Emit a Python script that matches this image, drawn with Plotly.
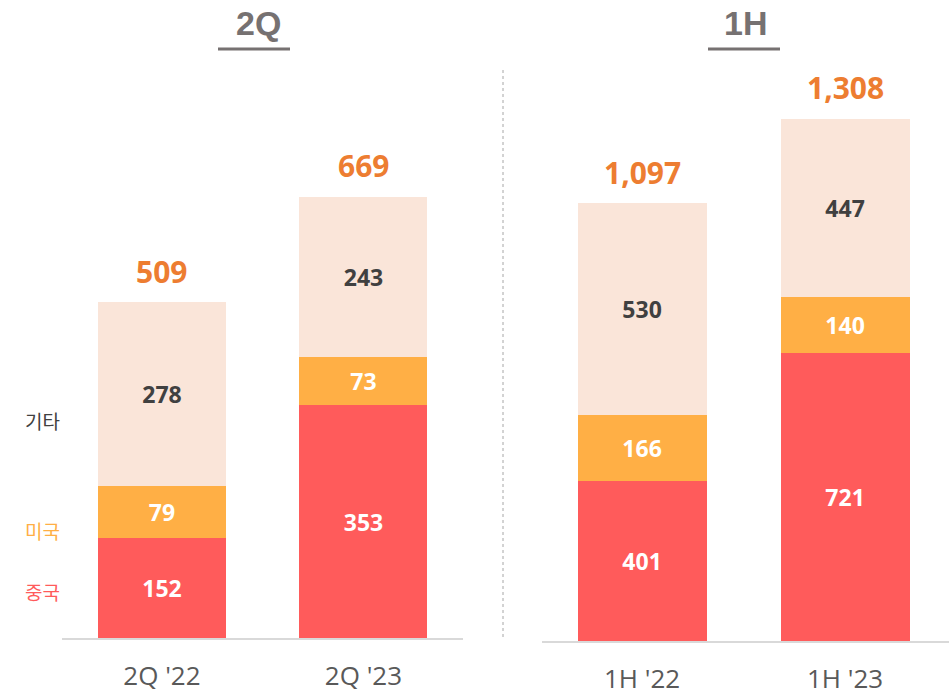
import plotly.graph_objects as go

# Data
q_cats = ["2Q '22", "2Q '23"]
h_cats = ["1H '22", "1H '23"]
q_china = [152, 353]
q_us = [79, 73]
q_other = [278, 243]
h_china = [401, 721]
h_us = [166, 140]
h_other = [530, 447]
q_total = [509, 669]
h_total = [1097, 1308]
series_names = ["중국", "미국", "기타"]
panel_titles = ["2Q", "1H"]

W, H = 949, 695
C_CHINA = "#FF5B5B"
C_US = "#FFAF45"
C_OTHER = "#FAE5D9"
C_TOTAL = "#ED7D31"
C_DARK = "#404040"
C_TITLE = "#767171"
C_TICK = "#595959"
FONT = "Open Sans, Noto Sans CJK KR, sans-serif"

def px(x):
    return x / W

def py(y):
    return 1 - y / H

fig = go.Figure()

def add_panel(cats, china, us, other, total, xa, ya):
    segs = [(china, C_CHINA, "white", series_names[0]),
            (us, C_US, "white", series_names[1]),
            (other, C_OTHER, C_DARK, series_names[2])]
    for vals, col, tcol, name in segs:
        fig.add_trace(go.Bar(
            x=cats, y=vals, name=name, marker=dict(color=col, line=dict(width=0)),
            width=0.635, text=[f"{v:,}" for v in vals], textposition="inside",
            insidetextanchor="middle", textangle=0, constraintext="none",
            textfont=dict(family=FONT, size=23, color=tcol, weight="bold"),
            xaxis=xa, yaxis=ya, showlegend=False, hoverinfo="skip"))
    for c, t in zip(cats, total):
        fig.add_annotation(x=c, y=t, xref=xa, yref=ya, text=f"<b>{t:,}</b>", showarrow=False,
                           yanchor="middle", yshift=31,
                           font=dict(family=FONT, size=30, color=C_TOTAL))

add_panel(q_cats, q_china, q_us, q_other, q_total, "x", "y")
add_panel(h_cats, h_china, h_us, h_other, h_total, "x2", "y2")

axis_common = dict(showgrid=False, zeroline=False, showline=True, linecolor="#D9D9D9",
                   linewidth=2, ticks="", ticklabelstandoff=14,
                   tickfont=dict(family=FONT, size=26, color=C_TICK),
                   fixedrange=True)

fig.update_layout(
    width=W, height=H,
    margin=dict(l=0, r=0, t=0, b=0),
    paper_bgcolor="white", plot_bgcolor="white",
    barmode="stack",
    xaxis=dict(domain=[px(62), px(463)], range=[-0.496, 1.494], anchor="y", **axis_common),
    yaxis=dict(domain=[py(638), 1], range=[0, 967], visible=False, anchor="x"),
    xaxis2=dict(domain=[px(542), 1], range=[-0.493, 1.512], anchor="y2", **axis_common),
    yaxis2=dict(domain=[py(641), 1], range=[0, 1606], visible=False, anchor="x2"),
)

# Panel titles and underlines
for title, cx, ucx in [(panel_titles[0], 258, 254), (panel_titles[1], 745, 744)]:
    fig.add_annotation(x=px(cx), y=py(23), xref="paper", yref="paper", text=f"<b>{title}</b>",
                       showarrow=False, font=dict(family="Liberation Sans, Arial", size=34, color=C_TITLE),
                       xanchor="center", yanchor="middle")
    fig.add_shape(type="line", xref="paper", yref="paper", x0=px(ucx - 36), x1=px(ucx + 36),
                  y0=py(49), y1=py(49), line=dict(color=C_TITLE, width=3))

# Separator
fig.add_shape(type="line", xref="paper", yref="paper", x0=px(503), x1=px(503),
              y0=py(70), y1=py(640), line=dict(color="#A6A6A6", width=1, dash="dot"))

# Series labels on the left
for name, col, yy in [(series_names[2], C_DARK, 420), (series_names[1], C_US, 530), (series_names[0], C_CHINA, 591)]:
    fig.add_annotation(x=px(42), y=py(yy), xref="paper", yref="paper", text=name, showarrow=False,
                       font=dict(family="Noto Sans CJK KR", size=19, color=col),
                       xanchor="center", yanchor="middle")

fig.write_html("out.html", config={"displayModeBar": False, "staticPlot": True},
               post_script="document.body.style.margin='0';document.body.style.overflow='hidden';")
